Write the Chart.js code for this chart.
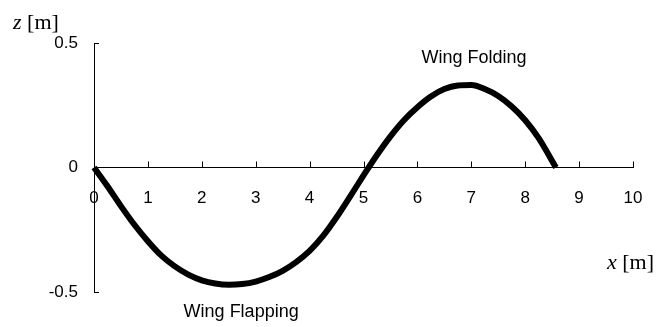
<!DOCTYPE html>
<html>
<head>
<meta charset="utf-8">
<script src="https://cdn.jsdelivr.net/npm/chart.js@4/dist/chart.umd.min.js"></script>
<style>
  html, body { margin: 0; padding: 0; background: #fff; }
  #wrap { width: 669px; height: 327px; }
</style>
</head>
<body>
<div id="wrap"><canvas id="chartAla"></canvas></div>
<script>
// trayectoria de la punta del ala
const xPos = [0, 0.25, 0.5, 0.75, 1.0, 1.25, 1.5, 1.75, 2.0, 2.25, 2.5, 2.75, 3.0, 3.25, 3.5, 3.75,
              4.0, 4.25, 4.5, 4.75, 5.0, 5.25, 5.5, 5.75, 6.0, 6.25, 6.5, 6.75, 7.0, 7.25, 7.5,
              7.75, 8.0, 8.25, 8.57];
const zPos = [0, -0.075, -0.155, -0.23, -0.296, -0.354, -0.397, -0.43, -0.453, -0.466, -0.471, -0.468,
              -0.458, -0.44, -0.415, -0.38, -0.335, -0.275, -0.2, -0.117, -0.032, 0.05, 0.125, 0.19,
              0.242, 0.285, 0.315, 0.329, 0.331, 0.315, 0.287, 0.245, 0.19, 0.118, 0];
const xTicks = [0, 1, 2, 3, 4, 5, 6, 7, 8, 9, 10];
const zTicks = [-0.5, 0, 0.5];
const notas = ['Wing Folding', 'Wing Flapping'];

const negro = '#000';

// marcas de eje, titulos y notas
const extras = {
    id: 'extras',
    afterDraw(chart) {
        const ctx = chart.ctx;
        const {x, y} = chart.scales;
        const area = chart.chartArea;
        const y0 = y.getPixelForValue(0);
        ctx.save();
        ctx.strokeStyle = negro;
        ctx.lineWidth = 1;
        ctx.beginPath();
        x.ticks.forEach(t => {
            const px = Math.round(x.getPixelForValue(t.value)) + 0.5;
            ctx.moveTo(px, y0);
            ctx.lineTo(px, y0 - 6);
        });
        y.ticks.forEach(t => {
            if (t.value === 0) return;
            const py = Math.round(y.getPixelForValue(t.value)) + 0.5;
            ctx.moveTo(area.left, py);
            ctx.lineTo(area.left + 5, py);
        });
        ctx.stroke();

        // titulos de ejes: variable en cursiva
        ctx.fillStyle = negro;
        ctx.textBaseline = 'middle';
        ctx.textAlign = 'left';
        const titulo = (v, px, py) => {
            ctx.font = 'italic 22px "Liberation Serif"';
            ctx.fillText(v, px, py);
            const w = ctx.measureText(v).width;
            ctx.font = '22px "Liberation Serif"';
            ctx.fillText(' [m]', px + w, py);
        };
        titulo('z', area.left - 81, area.top - 20);
        titulo('x', area.right - 26, area.bottom - 29);

        // notas
        ctx.textAlign = 'center';
        ctx.font = '18px "Liberation Sans"';
        ctx.fillText(notas[0], x.getPixelForValue(7.05), y.getPixelForValue(0.44));
        ctx.fillText(notas[1], x.getPixelForValue(2.73), y.getPixelForValue(-0.58));
        ctx.restore();
    }
};

new Chart(document.getElementById('chartAla'), {
    type: 'scatter',
    data: {
        datasets: [{
            data: xPos.map((v, i) => ({x: v, y: zPos[i]})),
            showLine: true,
            borderColor: negro,
            borderWidth: 6,
            cubicInterpolationMode: 'monotone',
            pointRadius: 0,
            clip: false
        }]
    },
    options: {
        responsive: true,
        maintainAspectRatio: false,
        animation: false,
        events: [],
        layout: { padding: { top: 43, bottom: 35, right: 36, left: 0 } },
        plugins: { legend: { display: false }, tooltip: { enabled: false } },
        scales: {
            x: {
                type: 'linear',
                position: { y: 0 },
                min: 0,
                max: 10,
                afterBuildTicks: s => { s.ticks = xTicks.map(v => ({value: v})); },
                grid: { drawOnChartArea: false, drawTicks: false },
                border: { color: negro, width: 1 },
                ticks: {
                    color: negro,
                    padding: 21,
                    maxRotation: 0,
                    font: { family: '"Liberation Sans"', size: 17 }
                }
            },
            y: {
                min: -0.5,
                max: 0.5,
                afterBuildTicks: s => { s.ticks = zTicks.map(v => ({value: v})); },
                afterFit: s => { s.width = 94; },
                grid: { drawOnChartArea: false, drawTicks: false },
                border: { color: negro, width: 1 },
                ticks: {
                    color: negro,
                    padding: 16,
                    font: { family: '"Liberation Sans"', size: 17 }
                }
            }
        }
    },
    plugins: [extras]
});
</script>
</body>
</html>
